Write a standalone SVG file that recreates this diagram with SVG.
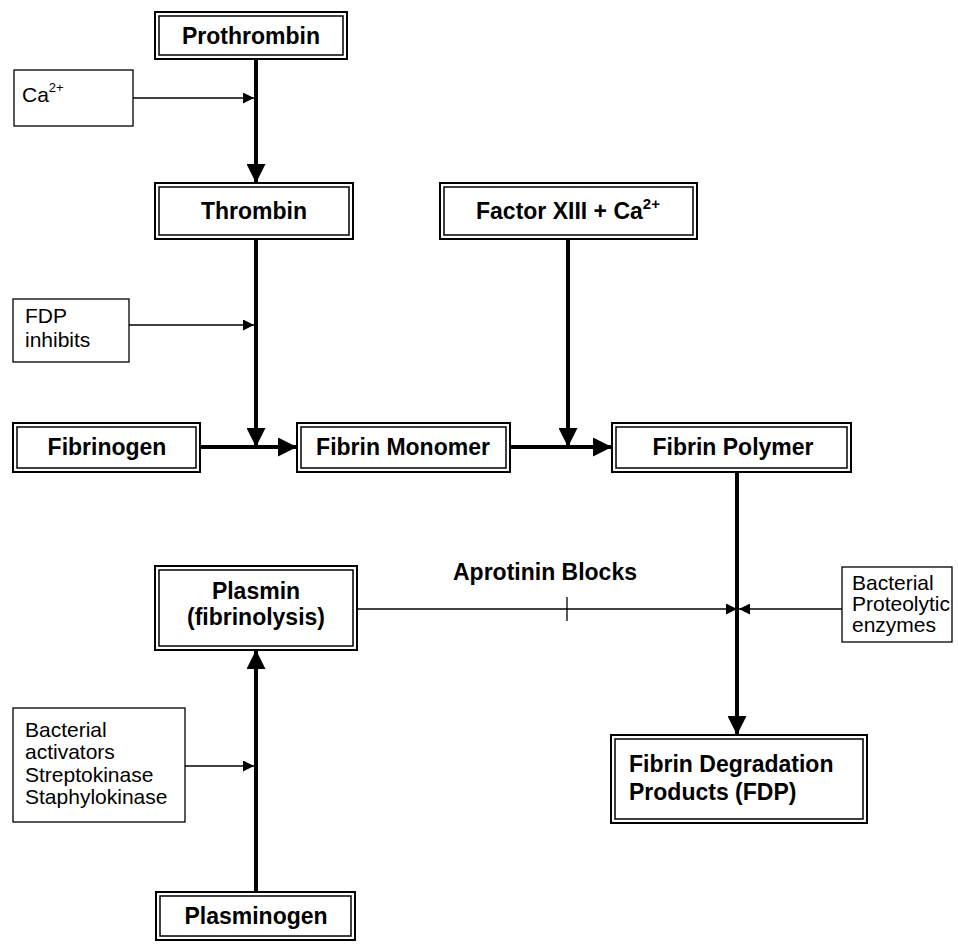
<svg xmlns="http://www.w3.org/2000/svg" width="958" height="949" viewBox="0 0 958 949">
<defs>
<style>
.o{fill:#fff;stroke:#000;stroke-width:2}
.i{fill:none;stroke:#000;stroke-width:1.5}
.s{fill:#fff;stroke:#000;stroke-width:1.3}
.b{font-family:"Liberation Sans",Arial,sans-serif;font-weight:bold;font-size:23px;fill:#000}
.t{font-family:"Liberation Sans",Arial,sans-serif;font-size:21px;fill:#000}
.thick{stroke:#000;stroke-width:4;fill:none}
.thin{stroke:#000;stroke-width:1.3;fill:none}
</style>
<marker id="big" viewBox="0 0 10 10" refX="10" refY="5" markerUnits="userSpaceOnUse" markerWidth="19" markerHeight="19" orient="auto">
<path d="M0,0 L10,5 L0,10 Z" fill="#000"/>
</marker>
<marker id="sm" viewBox="0 0 10 10" refX="10" refY="5" markerUnits="userSpaceOnUse" markerWidth="11" markerHeight="11" orient="auto">
<path d="M0,0 L10,5 L0,10 Z" fill="#000"/>
</marker>
</defs>
<rect width="958" height="949" fill="#fff"/>
<g id="connectors">
<line class="thick" x1="256" y1="59" x2="256" y2="183" marker-end="url(#big)"/>
<line class="thin" x1="133" y1="98" x2="254" y2="98" marker-end="url(#sm)"/>
<line class="thick" x1="256" y1="239" x2="256" y2="447" marker-end="url(#big)"/>
<line class="thin" x1="129" y1="325" x2="254" y2="325" marker-end="url(#sm)"/>
<line class="thick" x1="568" y1="239" x2="568" y2="447" marker-end="url(#big)"/>
<line class="thick" x1="200" y1="447" x2="297" y2="447" marker-end="url(#big)"/>
<line class="thick" x1="510" y1="447" x2="612" y2="447" marker-end="url(#big)"/>
<line class="thick" x1="737" y1="472" x2="737" y2="735" marker-end="url(#big)"/>
<line class="thin" x1="357" y1="609" x2="737" y2="609" marker-end="url(#sm)"/>
<line class="thin" x1="567" y1="597" x2="567" y2="621"/>
<line class="thin" x1="842" y1="609" x2="739" y2="609" marker-end="url(#sm)"/>
<line class="thick" x1="256" y1="892" x2="256" y2="650" marker-end="url(#big)"/>
<line class="thin" x1="185" y1="766" x2="254" y2="766" marker-end="url(#sm)"/>
</g>
<g id="prothrombin">
<rect class="o" x="155" y="12" width="192" height="47"/><rect class="i" x="159" y="16" width="184" height="39"/>
<text class="b" x="251" y="44" text-anchor="middle" font-size="22">Prothrombin</text>
</g>
<g id="ca">
<rect class="s" x="14" y="70" width="119" height="56"/>
<text class="t" x="22" y="102" font-size="20">Ca<tspan font-size="13" dy="-10">2+</tspan></text>
</g>
<g id="thrombin">
<rect class="o" x="155" y="183" width="198" height="56"/><rect class="i" x="159" y="187" width="190" height="48"/>
<text class="b" x="254" y="219" text-anchor="middle" font-size="24.5">Thrombin</text>
</g>
<g id="factor13">
<rect class="o" x="440" y="183" width="257" height="56"/><rect class="i" x="444" y="187" width="249" height="48"/>
<text class="b" x="568" y="219" text-anchor="middle" font-size="25">Factor XIII + Ca<tspan font-size="15" dy="-10">2+</tspan></text>
</g>
<g id="fdpinhibits">
<rect class="s" x="13" y="299" width="116" height="63"/>
<text class="t" x="25" y="323">FDP</text>
<text class="t" x="25" y="347">inhibits</text>
</g>
<g id="fibrinogen">
<rect class="o" x="13" y="423" width="187" height="49"/><rect class="i" x="17" y="427" width="179" height="41"/>
<text class="b" x="107" y="455" text-anchor="middle" font-size="24">Fibrinogen</text>
</g>
<g id="monomer">
<rect class="o" x="297" y="423" width="213" height="49"/><rect class="i" x="301" y="427" width="205" height="41"/>
<text class="b" x="403" y="455" text-anchor="middle">Fibrin Monomer</text>
</g>
<g id="polymer">
<rect class="o" x="612" y="423" width="239" height="49"/><rect class="i" x="616" y="427" width="231" height="41"/>
<text class="b" x="733" y="455" text-anchor="middle" font-size="24.5">Fibrin Polymer</text>
</g>
<g id="aprotinin">
<text class="b" x="545" y="580" text-anchor="middle" font-size="25">Aprotinin Blocks</text>
</g>
<g id="plasmin">
<rect class="o" x="155" y="566" width="202" height="84"/><rect class="i" x="159" y="570" width="194" height="76"/>
<text class="b" x="256" y="599" text-anchor="middle" font-size="23.5">Plasmin</text>
<text class="b" x="256" y="625" text-anchor="middle" font-size="23.5">(fibrinolysis)</text>
</g>
<g id="proteolytic">
<rect class="s" x="842" y="567" width="110" height="75"/>
<text class="t" x="852" y="590" font-size="16.5">Bacterial</text>
<text class="t" x="852" y="611" font-size="16.5">Proteolytic</text>
<text class="t" x="852" y="632" font-size="16.5">enzymes</text>
</g>
<g id="activators">
<rect class="s" x="13" y="708" width="172" height="114"/>
<text class="t" x="25" y="737">Bacterial</text>
<text class="t" x="25" y="759">activators</text>
<text class="t" x="25" y="782">Streptokinase</text>
<text class="t" x="25" y="804">Staphylokinase</text>
</g>
<g id="fdp">
<rect class="o" x="611" y="735" width="256" height="88"/><rect class="i" x="615" y="739" width="248" height="80"/>
<text class="b" x="629" y="772" font-size="24">Fibrin Degradation</text>
<text class="b" x="629" y="800" font-size="24">Products (FDP)</text>
</g>
<g id="plasminogen">
<rect class="o" x="156" y="892" width="199" height="48"/><rect class="i" x="160" y="896" width="191" height="40"/>
<text class="b" x="256" y="924" text-anchor="middle" font-size="22">Plasminogen</text>
</g>
</svg>
